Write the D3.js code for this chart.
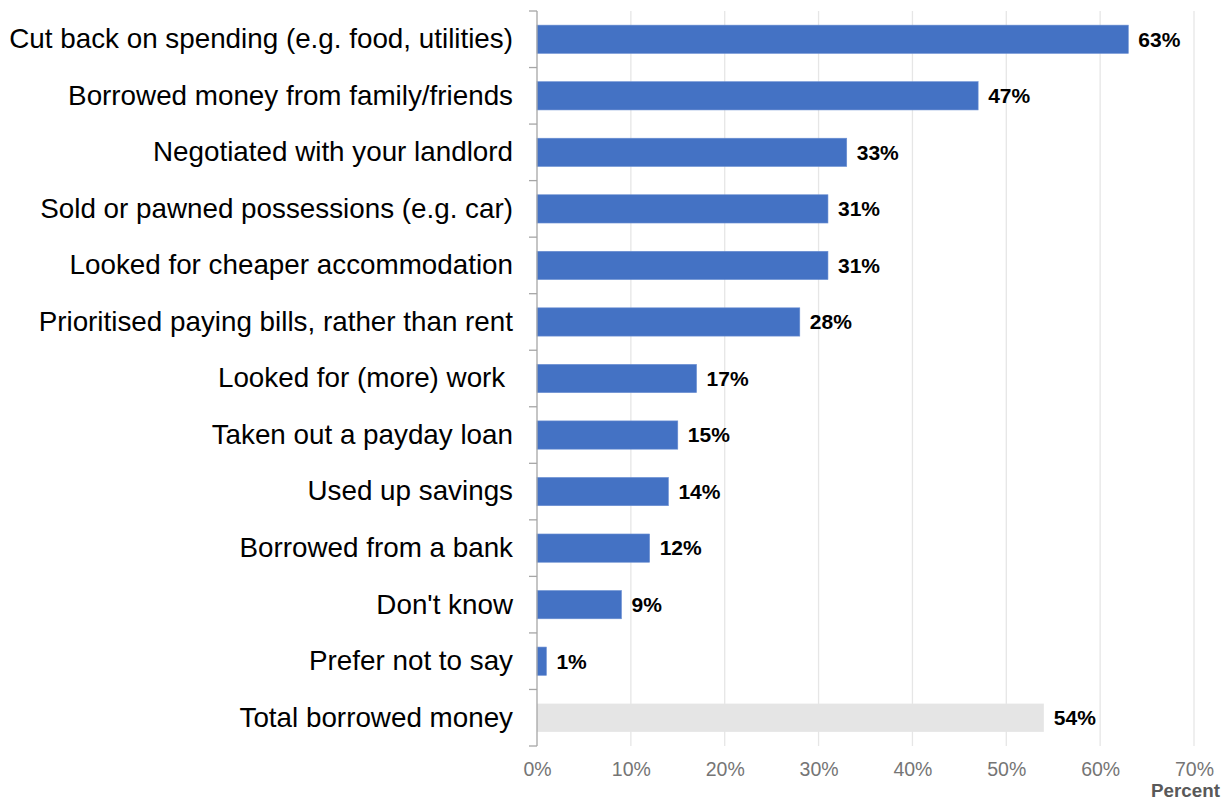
<!DOCTYPE html>
<html>
<head>
<meta charset="utf-8">
<script src="https://cdn.jsdelivr.net/npm/d3@7"></script>
<style>
  html, body { margin: 0; padding: 0; background: #fff; }
  svg { display: block; font-family: "Liberation Sans", Arial, sans-serif; }
</style>
</head>
<body>
<svg id="chart" width="1231" height="800"></svg>
<script>
// Actions taken to cover housing costs (percent of respondents)
const categories = [
  "Cut back on spending (e.g. food, utilities)",
  "Borrowed money from family/friends",
  "Negotiated with your landlord",
  "Sold or pawned possessions (e.g. car)",
  "Looked for cheaper accommodation",
  "Prioritised paying bills, rather than rent",
  "Looked for (more) work ",
  "Taken out a payday loan",
  "Used up savings",
  "Borrowed from a bank",
  "Don't know",
  "Prefer not to say",
  "Total borrowed money"
];
const values = [63, 47, 33, 31, 31, 28, 17, 15, 14, 12, 9, 1, 54];
const totalCategory = "Total borrowed money";
const xTicks = [0, 10, 20, 30, 40, 50, 60, 70];
const axisTitle = "Percent";

const svg = d3.select("#chart");
const margin = { left: 537, right: 37, top: 11, bottom: 54 };
const W = 1231, H = 800;

const x = d3.scaleLinear().domain([0, 70]).range([margin.left, W - margin.right]);
const y = d3.scaleBand().domain(categories).range([margin.top, H - margin.bottom]).paddingInner(0.5).paddingOuter(0.25);

// vertical gridlines
svg.append("g")
  .selectAll("line")
  .data(xTicks.filter(d => d > 0))
  .join("line")
  .attr("x1", d => x(d)).attr("x2", d => x(d))
  .attr("y1", margin.top).attr("y2", H - margin.bottom)
  .attr("stroke", "#e6e6e6").attr("stroke-width", 1.3);

// bars
const data = categories.map((c, i) => ({ cat: c, val: values[i] }));
svg.append("g")
  .selectAll("rect")
  .data(data)
  .join("rect")
  .attr("x", x(0))
  .attr("y", d => y(d.cat))
  .attr("width", d => x(d.val) - x(0))
  .attr("height", y.bandwidth())
  .attr("fill", d => d.cat === totalCategory ? "#e5e5e5" : "#4472c4")
  .attr("stroke", d => d.cat === totalCategory ? "none" : "#6b8fd2")
  .attr("stroke-width", 0.6);

// value labels
svg.append("g")
  .selectAll("text")
  .data(data)
  .join("text")
  .attr("x", d => x(d.val) + 10)
  .attr("y", d => y(d.cat) + y.bandwidth() / 2)
  .attr("dy", "0.35em")
  .attr("font-size", 21)
  .attr("font-weight", "bold")
  .attr("fill", "#000")
  .text(d => d.val + "%");

// left category axis
const yAxis = d3.axisLeft(y).tickSize(0).tickPadding(24);
const gy = svg.append("g").attr("transform", `translate(${x(0)},0)`).call(yAxis);
gy.select(".domain").remove();
gy.selectAll("text")
  .attr("font-size", 27.8)
  .attr("fill", "#000")
  .attr("font-family", "Liberation Sans, Arial, sans-serif")
  .style("white-space", "pre");

// axis line with ticks between categories
const edges = categories.map(c => y(c) - y.step() * y.paddingInner() / 2);
edges.push(H - margin.bottom);
edges[0] = margin.top;
svg.append("line")
  .attr("x1", x(0)).attr("x2", x(0))
  .attr("y1", margin.top).attr("y2", H - margin.bottom)
  .attr("stroke", "#a6a6a6").attr("stroke-width", 1.3);
svg.append("g")
  .selectAll("line")
  .data(edges)
  .join("line")
  .attr("x1", x(0) - 8).attr("x2", x(0))
  .attr("y1", d => d).attr("y2", d => d)
  .attr("stroke", "#a6a6a6").attr("stroke-width", 1.3);

// bottom axis labels
const xAxis = d3.axisBottom(x).tickValues(xTicks).tickFormat(d => d + "%").tickSize(0).tickPadding(16);
const gx = svg.append("g").attr("transform", `translate(0,${H - margin.bottom})`).call(xAxis);
gx.select(".domain").remove();
gx.selectAll("text").attr("font-size", 19.5).attr("fill", "#757575").attr("font-family", "Liberation Sans, Arial, sans-serif");

// axis title
svg.append("text")
  .attr("x", 1220).attr("y", 797)
  .attr("text-anchor", "end")
  .attr("font-size", 18.8)
  .attr("font-weight", "bold")
  .attr("fill", "#595959")
  .text(axisTitle);
</script>
</body>
</html>
